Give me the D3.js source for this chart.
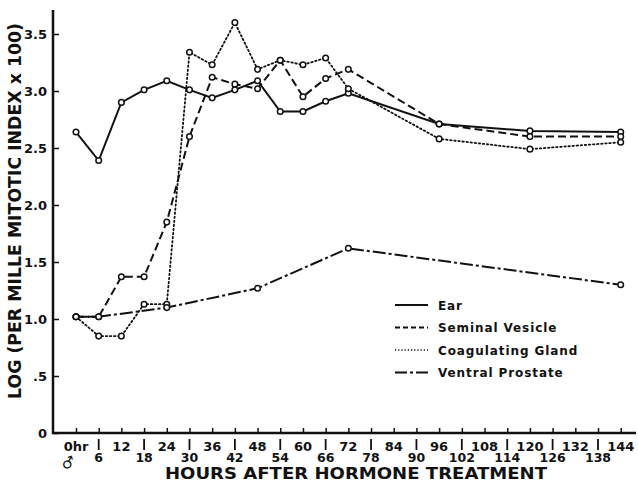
<!DOCTYPE html>
<html>
<head>
<meta charset="utf-8">
<script src="https://cdn.jsdelivr.net/npm/d3@7"></script>
<style>
body { margin: 0; background: #fff; }
svg { display: block; }
text { font-family: "DejaVu Sans", sans-serif; font-weight: bold; fill: #111; }
</style>
</head>
<body>
<svg id="chart"></svg>
<script>
// values
var hours = [0, 6, 12, 18, 24, 30, 36, 42, 48, 54, 60, 66, 72, 96, 120, 144];
var ear = [2.64, 2.39, 2.90, 3.01, 3.09, 3.01, 2.94, 3.01, 3.09, 2.82, 2.82, 2.91, 2.98, 2.71, 2.65, 2.64];
var seminal = [1.02, 1.02, 1.37, 1.37, 1.85, 2.60, 3.12, 3.06, 3.02, 3.27, 2.95, 3.11, 3.19, 2.71, 2.60, 2.60];
var coag = [1.02, 0.85, 0.85, 1.13, 1.13, 3.34, 3.23, 3.60, 3.19, 3.27, 3.23, 3.29, 3.02, 2.58, 2.49, 2.55];
var ventralHours = [0, 6, 24, 48, 72, 144];
var ventral = [1.02, 1.02, 1.10, 1.27, 1.62, 1.30];

var yTicks = [0, 0.5, 1, 1.5, 2, 2.5, 3, 3.5];
var yTickLabels = ["0", ".5", "1.0", "1.5", "2.0", "2.5", "3.0", "3.5"];
var xTicks = d3.range(0, 145, 6);
var legendNames = ["Ear", "Seminal  Vesicle", "Coagulating  Gland", "Ventral  Prostate"];

var W = 639, H = 484;
var svg = d3.select("#chart").attr("width", W).attr("height", H);

var x = d3.scaleLinear().domain([0, 144]).range([76, 620.7]);
var y = d3.scaleLinear().domain([0, 3.5]).range([433, 34]);
var axisX = 53;

var dashes = ["none", "8,4", "1.5,2.6", "13,3,3,3"];

// axes
svg.append("line").attr("x1", axisX).attr("x2", axisX).attr("y1", 10).attr("y2", y(0) + 1)
  .attr("stroke", "#111").attr("stroke-width", 2.5);
svg.append("line").attr("x1", axisX - 1).attr("x2", 636).attr("y1", y(0)).attr("y2", y(0))
  .attr("stroke", "#111").attr("stroke-width", 2.5);

var yAxis = svg.append("g").attr("transform", "translate(" + axisX + ",0)")
  .call(d3.axisLeft(y).tickValues(yTicks).tickSize(-6).tickPadding(6)
    .tickFormat(function(d, i) { return yTickLabels[i]; }));
yAxis.select(".domain").remove();
yAxis.selectAll("line").attr("stroke", "#111").attr("stroke-width", 1.5);
yAxis.selectAll("text").style("font-family", "DejaVu Sans").style("font-weight", "bold")
  .style("font-size", "13px").attr("fill", "#111");

var xAxis = svg.append("g").attr("transform", "translate(0," + y(0) + ")")
  .call(d3.axisBottom(x).tickValues(xTicks).tickSize(-5).tickFormat(""));
xAxis.select(".domain").remove();
xAxis.selectAll("line").attr("stroke", "#111").attr("stroke-width", 1.5);

// x tick labels: multiples of 12 on top row, the others below with a bar
xTicks.forEach(function(h, i) {
  if (i % 2 == 0) {
    svg.append("text").attr("x", x(h)).attr("y", 451).attr("text-anchor", "middle")
      .style("font-size", "13px").text(h == 0 ? "0hr" : h);
  } else {
    svg.append("line").attr("x1", x(h)).attr("x2", x(h)).attr("y1", 439).attr("y2", 450)
      .attr("stroke", "#111").attr("stroke-width", 1.8);
    svg.append("text").attr("x", x(h)).attr("y", 462).attr("text-anchor", "middle")
      .style("font-size", "12.5px").text(h);
  }
});
svg.append("text").attr("x", 68).attr("y", 468).attr("text-anchor", "middle")
  .attr("transform", "rotate(-20,68,463)").style("font-size", "15px").text("\u2642");

// titles
svg.append("text").attr("x", 356).attr("y", 479).attr("text-anchor", "middle")
  .attr("textLength", 382).attr("lengthAdjust", "spacingAndGlyphs")
  .style("font-size", "16px").text("HOURS  AFTER  HORMONE  TREATMENT");
svg.append("text").attr("transform", "translate(21,211) rotate(-90)").attr("text-anchor", "middle")
  .attr("textLength", 376).attr("lengthAdjust", "spacingAndGlyphs")
  .style("font-size", "18px").text("LOG  (PER  MILLE  MITOTIC  INDEX  x 100)");

// series
var series = [
  { h: hours, v: ear },
  { h: hours, v: seminal },
  { h: hours, v: coag },
  { h: ventralHours, v: ventral }
];
var line = d3.line().x(function(d) { return x(d[0]); }).y(function(d) { return y(d[1]); });

series.forEach(function(s, k) {
  var pts = s.h.map(function(h, i) { return [h, s.v[i]]; });
  svg.append("path").datum(pts).attr("d", line).attr("fill", "none")
    .attr("stroke", "#111").attr("stroke-width", k == 2 ? 1.8 : 2)
    .attr("stroke-dasharray", dashes[k]).attr("stroke-linecap", k == 2 ? "round" : "butt");
  svg.append("g").selectAll("circle").data(pts).enter().append("circle")
    .attr("cx", function(d) { return x(d[0]); })
    .attr("cy", function(d) { return y(d[1]); })
    .attr("r", 2.8).attr("fill", "#fff").attr("stroke", "#111").attr("stroke-width", 1.5);
});

// legend
legendNames.forEach(function(name, i) {
  var ly = 305 + i * 22.5;
  svg.append("line").attr("x1", 395).attr("x2", 428).attr("y1", ly).attr("y2", ly)
    .attr("stroke", "#111").attr("stroke-width", i == 2 ? 1.3 : 1.8)
    .attr("stroke-dasharray", i == 3 ? "12,3,3,3" : (i == 1 ? "5,3" : (i == 2 ? "1.2,2" : "none")));
  svg.append("text").attr("x", 438).attr("y", ly + 4.5).style("font-size", "12px")
    .style("letter-spacing", "0.9px").text(name);
});
</script>
</body>
</html>
